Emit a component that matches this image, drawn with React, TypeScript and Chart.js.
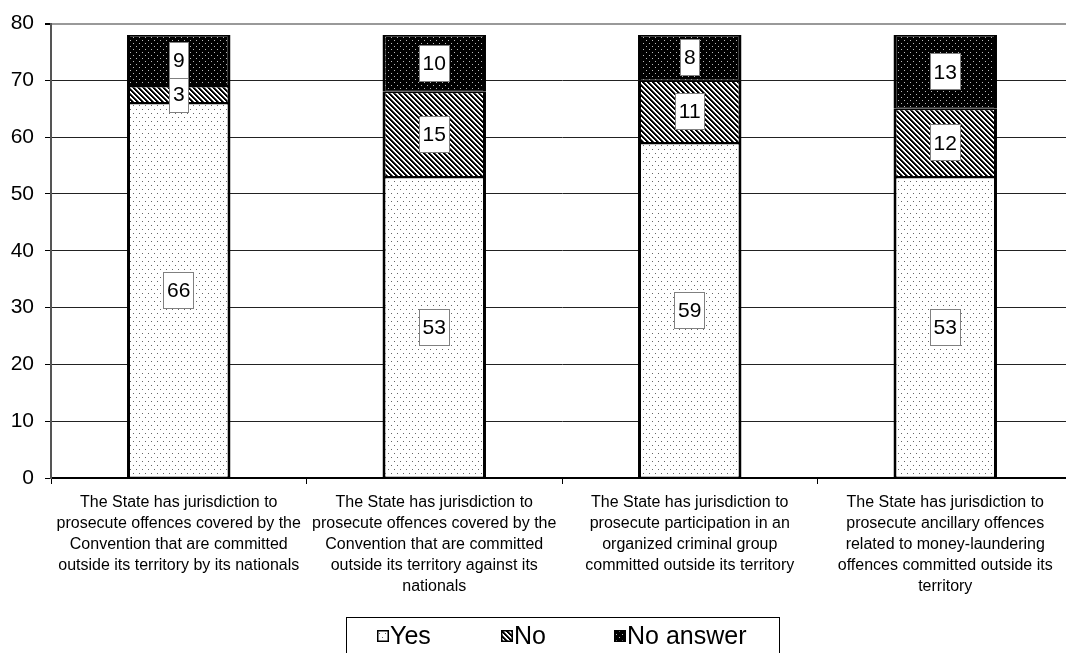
import React, { useEffect, useRef } from "react";
import { Chart, registerables } from "chart.js";

Chart.register(...registerables);

const categories: string[][] = [
  ["The State has jurisdiction to", "prosecute offences covered by the", "Convention that are committed", "outside its territory by its nationals"],
  ["The State has jurisdiction to", "prosecute offences covered by the", "Convention that are committed", "outside its territory against its", "nationals"],
  ["The State has jurisdiction to", "prosecute participation in an", "organized criminal group", "committed outside its territory"],
  ["The State has jurisdiction to", "prosecute ancillary offences", "related to money-laundering", "offences committed outside its", "territory"],
];
const seriesNames = ["Yes", "No", "No answer"];
const yesValues = [66, 53, 59, 53];
const noValues = [3, 15, 11, 12];
const noAnswerValues = [9, 10, 8, 13];
const yMin = 0;
const yMax = 80;
const yStep = 10;

const FONT = "'Liberation Sans', Arial, sans-serif";

function makePattern(kind: string): CanvasPattern | string {
  const c = document.createElement("canvas");
  const ctx = c.getContext("2d");
  if (!ctx) return "#fff";
  if (kind === "yes") {
    c.width = 6; c.height = 8;
    ctx.fillStyle = "#fff"; ctx.fillRect(0, 0, 6, 8);
    ctx.fillStyle = "#666";
    ctx.fillRect(1, 1, 1, 1); ctx.fillRect(4, 5, 1, 1);
  } else if (kind === "no") {
    c.width = 5; c.height = 5;
    ctx.fillStyle = "#fff"; ctx.fillRect(0, 0, 5, 5);
    for (let x = 0; x < 5; x++) {
      for (let y = 0; y < 5; y++) {
        const m = (((x - y) % 5) + 5) % 5;
        if (m === 0 || m === 1) { ctx.fillStyle = "#000"; ctx.fillRect(x, y, 1, 1); }
        else if (m === 2) { ctx.fillStyle = "#555"; ctx.fillRect(x, y, 1, 1); }
      }
    }
  } else {
    c.width = 6; c.height = 6;
    ctx.fillStyle = "#000"; ctx.fillRect(0, 0, 6, 6);
    ctx.fillStyle = "#bbb";
    ctx.fillRect(1, 1, 1, 1); ctx.fillRect(4, 4, 1, 1);
  }
  return ctx.createPattern(c, "repeat") || "#fff";
}

export default function App() {
  const ref = useRef<HTMLCanvasElement | null>(null);

  useEffect(() => {
    const canvas = ref.current;
    if (!canvas) return;
    const pats = [makePattern("yes"), makePattern("no"), makePattern("na")];
    const values = [yesValues, noValues, noAnswerValues];

    const labelPlugin = {
      id: "segLabels",
      afterDatasetsDraw(chart: any) {
        const ctx = chart.ctx;
        ctx.save();
        ctx.font = `21px ${FONT}`;
        chart.data.datasets.forEach((ds: any, i: number) => {
          const meta = chart.getDatasetMeta(i);
          meta.data.forEach((el: any, j: number) => {
            const v = ds.data[j];
            const p = el.getProps(["x", "y", "base"], true);
            const cy = (p.y + p.base) / 2;
            const text = String(v);
            const w = Math.round(ctx.measureText(text).width + 8);
            const h = 37;
            const left = Math.round(p.x - w / 2);
            const top = Math.round(cy - h / 2);
            ctx.fillStyle = "#fff";
            ctx.fillRect(left, top, w, h);
            ctx.strokeStyle = "#808080";
            ctx.lineWidth = 1;
            ctx.strokeRect(left + 0.5, top + 0.5, w - 1, h - 1);
            ctx.fillStyle = "#000";
            ctx.textAlign = "center";
            ctx.textBaseline = "middle";
            ctx.fillText(text, p.x, cy + 1);
          });
        });
        ctx.restore();
      },
    };

    const legendPlugin = {
      id: "boxLegend",
      afterDraw(chart: any) {
        const ctx = chart.ctx;
        ctx.save();
        ctx.strokeStyle = "#000";
        ctx.lineWidth = 1;
        ctx.strokeRect(346.5, 617.5, 433, 50);
        const xs = [377, 501, 614];
        ctx.font = `25px ${FONT}`;
        ctx.textAlign = "left";
        ctx.textBaseline = "middle";
        seriesNames.forEach((name, i) => {
          const x = xs[i];
          ctx.fillStyle = pats[i] as any;
          ctx.fillRect(x, 630, 12, 12);
          ctx.strokeStyle = "#000";
          ctx.lineWidth = 1.5;
          ctx.strokeRect(x + 0.75, 630.75, 10.5, 10.5);
          ctx.fillStyle = "#000";
          ctx.fillText(name, x + 13, 637);
        });
        ctx.restore();
      },
    };

    const chart = new Chart(canvas, {
      type: "bar",
      data: {
        labels: categories,
        datasets: seriesNames.map((name, i) => ({
          label: name,
          data: values[i],
          backgroundColor: pats[i] as any,
          borderColor: "#000",
          borderWidth: { left: 3, right: 3, top: 1.5, bottom: 1 },
          borderSkipped: false,
          categoryPercentage: 1,
          barPercentage: 0.405,
        })),
      },
      options: {
        responsive: false,
        animation: false,
        devicePixelRatio: 1,
        layout: { padding: { top: 20, left: 0, right: 0, bottom: 0 } },
        plugins: {
          legend: { display: false },
          tooltip: { enabled: false },
        },
        scales: {
          x: {
            stacked: true,
            grid: { offset: true, drawOnChartArea: false, tickLength: 6, color: "#000", tickColor: "#000" },
            border: { color: "#000", width: 2 },
            ticks: {
              autoSkip: false,
              maxRotation: 0,
              padding: 8,
              color: "#000",
              font: { family: FONT, size: 16, lineHeight: 21 / 16 },
            },
            afterFit: (s: any) => { s.height = 175; },
          },
          y: {
            stacked: true,
            min: yMin,
            max: yMax,
            ticks: {
              stepSize: yStep,
              padding: 11,
              color: "#000",
              font: { family: FONT, size: 21 },
            },
            grid: {
              tickLength: 6,
              tickColor: "#000",
              color: (c: any) => (c.tick && c.tick.value === yMax ? "#999" : "#222"),
              lineWidth: (c: any) => (c.tick && c.tick.value === yMax ? 2 : 1),
            },
            border: { color: "#555", width: 2 },
            afterFit: (s: any) => { s.width = 51; },
          },
        },
      },
      plugins: [labelPlugin, legendPlugin],
    } as any);

    return () => chart.destroy();
  }, []);

  return (
    <div style={{ position: "fixed", left: 0, top: 0, width: 1066, height: 653, overflow: "hidden", background: "#fff" }}>
      <canvas ref={ref} width={1073} height={653} style={{ display: "block" }} />
    </div>
  );
}
